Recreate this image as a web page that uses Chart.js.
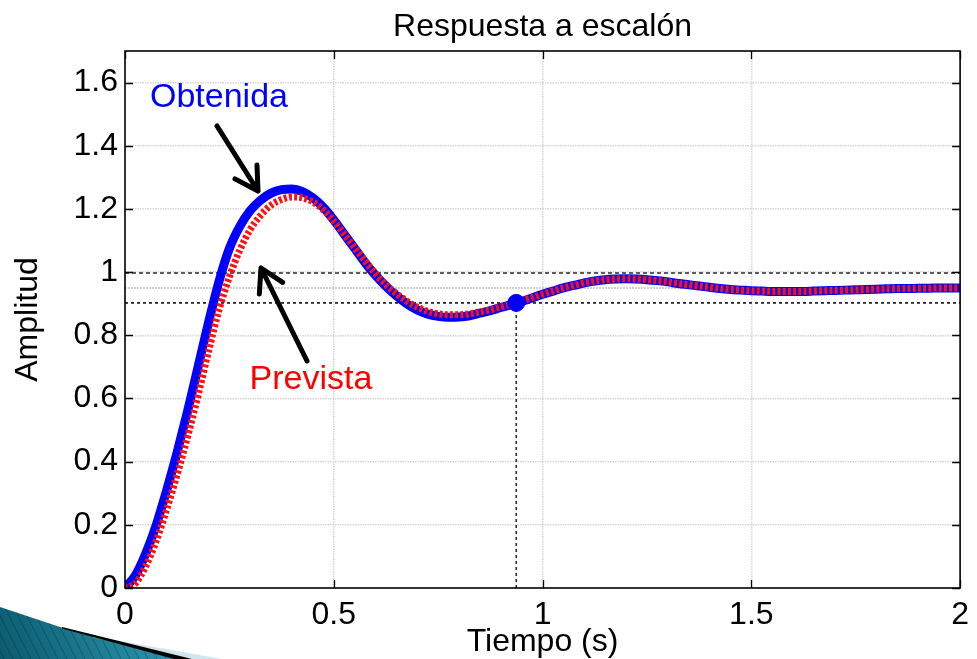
<!DOCTYPE html>
<html>
<head>
<meta charset="utf-8">
<title>Respuesta a escalón</title>
<script src="https://cdn.jsdelivr.net/npm/chart.js@4.4.1/dist/chart.umd.min.js"></script>
<style>
  html, body { margin: 0; padding: 0; background: #ffffff; }
  canvas { display: block; }
</style>
</head>
<body>
<canvas id="c" width="977" height="659"></canvas>
<script>
// Step response: measured ("Obtenida") vs. model ("Prevista")
const timeValues = [
  0.000, 0.025, 0.050, 0.075, 0.100, 0.125, 0.150, 0.175, 0.200, 0.225,
  0.250, 0.275, 0.300, 0.325, 0.350, 0.375, 0.400, 0.425, 0.450, 0.475,
  0.500, 0.525, 0.550, 0.575, 0.600, 0.625, 0.650, 0.675, 0.700, 0.725,
  0.750, 0.775, 0.800, 0.825, 0.850, 0.875, 0.900, 0.925, 0.950, 0.975,
  1.000, 1.025, 1.050, 1.075, 1.100, 1.125, 1.150, 1.175, 1.200, 1.225,
  1.250, 1.275, 1.300, 1.325, 1.350, 1.375, 1.400, 1.425, 1.450, 1.475,
  1.500, 1.525, 1.550, 1.575, 1.600, 1.625, 1.650, 1.675, 1.700, 1.725,
  1.750, 1.775, 1.800, 1.825, 1.850, 1.875, 1.900, 1.925, 1.950, 1.975,
  2.000
];

const obtenidaValues = [
  0.000, 0.040, 0.110, 0.200, 0.310, 0.430, 0.560, 0.700, 0.840, 0.970,
  1.075, 1.145, 1.195, 1.228, 1.250, 1.261, 1.263, 1.255, 1.235, 1.205,
  1.165, 1.120, 1.075, 1.030, 0.990, 0.955, 0.925, 0.900, 0.880, 0.867,
  0.860, 0.857, 0.858, 0.862, 0.870, 0.878, 0.888, 0.897, 0.907, 0.918,
  0.930, 0.940, 0.950, 0.958, 0.966, 0.972, 0.976, 0.978, 0.979, 0.978,
  0.976, 0.973, 0.969, 0.964, 0.960, 0.956, 0.952, 0.948, 0.945, 0.943,
  0.941, 0.940, 0.939, 0.939, 0.939, 0.939, 0.940, 0.941, 0.942, 0.943,
  0.944, 0.945, 0.946, 0.947, 0.948, 0.948, 0.949, 0.949, 0.950, 0.950,
  0.950
];

const previstaValues = [
  0.000, 0.015, 0.070, 0.150, 0.250, 0.360, 0.480, 0.610, 0.750, 0.880,
  0.985, 1.070, 1.135, 1.180, 1.212, 1.230, 1.238, 1.235, 1.222, 1.197,
  1.162, 1.120, 1.077, 1.035, 0.995, 0.960, 0.932, 0.908, 0.889, 0.876,
  0.868, 0.865, 0.865, 0.868, 0.874, 0.881, 0.890, 0.899, 0.909, 0.919,
  0.930, 0.940, 0.950, 0.958, 0.966, 0.972, 0.976, 0.978, 0.979, 0.978,
  0.976, 0.973, 0.969, 0.964, 0.960, 0.956, 0.952, 0.948, 0.945, 0.943,
  0.941, 0.940, 0.939, 0.939, 0.939, 0.939, 0.940, 0.941, 0.942, 0.943,
  0.944, 0.945, 0.946, 0.947, 0.948, 0.948, 0.949, 0.949, 0.950, 0.950,
  0.950
];

// Settling band (±5 % of the final value) and settling point
const finalValue = 0.95;
const bandUpper = 0.9975;
const bandLower = 0.9025;
const settlingTime = 0.937;

const xTickValues = [0, 0.5, 1, 1.5, 2];
const yTickValues = [0, 0.2, 0.4, 0.6, 0.8, 1.0, 1.2, 1.4, 1.6];
const xRange = [0, 2];
const yRange = [0, 1.7];

const FONT = '"Liberation Sans", Arial, Helvetica, sans-serif';

const toPoints = (xs, ys) => xs.map((x, i) => ({ x: x, y: ys[i] }));
const hLine = (v) => [{ x: xRange[0], y: v }, { x: xRange[1], y: v }];

// Frame, inward tick marks, annotations and the slide corner ornament
const decorations = {
  id: 'decorations',
  beforeDraw(chart) {
    const ctx = chart.ctx;
    ctx.save();
    ctx.fillStyle = '#ffffff';
    ctx.fillRect(0, 0, chart.width, chart.height);
    ctx.restore();
  },
  afterDatasetsDraw(chart) {
    const { ctx, chartArea: a, scales } = chart;
    const xs = scales.x, ys = scales.y;
    ctx.save();
    // axes box
    ctx.strokeStyle = '#000000';
    ctx.lineWidth = 1.6;
    ctx.setLineDash([]);
    ctx.strokeRect(a.left, a.top, a.right - a.left, a.bottom - a.top);
    // inward ticks
    const tl = 8;
    ctx.beginPath();
    xTickValues.forEach(v => {
      const px = Math.round(xs.getPixelForValue(v)) + 0.5;
      ctx.moveTo(px, a.bottom); ctx.lineTo(px, a.bottom - tl);
      ctx.moveTo(px, a.top); ctx.lineTo(px, a.top + tl);
    });
    yTickValues.forEach(v => {
      const py = Math.round(ys.getPixelForValue(v)) + 0.5;
      ctx.moveTo(a.left, py); ctx.lineTo(a.left + tl, py);
      ctx.moveTo(a.right, py); ctx.lineTo(a.right - tl, py);
    });
    ctx.lineWidth = 1.3;
    ctx.stroke();
    ctx.restore();
  },
  afterDraw(chart) {
    const ctx = chart.ctx;
    ctx.save();

    // labels
    ctx.font = '34px ' + FONT;
    ctx.textAlign = 'center';
    ctx.textBaseline = 'middle';
    ctx.fillStyle = '#0000ff';
    ctx.fillText('Obtenida', 219, 98);
    ctx.fillStyle = '#ff0000';
    ctx.fillText('Prevista', 311, 380);

    // arrows
    const arrow = (x0, y0, x1, y1) => {
      const ang = Math.atan2(y0 - y1, x0 - x1);
      const len = 26, spread = Math.PI / 6;
      ctx.strokeStyle = '#000000';
      ctx.lineWidth = 5;
      ctx.lineCap = 'round';
      ctx.lineJoin = 'round';
      ctx.beginPath();
      ctx.moveTo(x0, y0);
      ctx.lineTo(x1, y1);
      ctx.moveTo(x1 + len * Math.cos(ang - spread), y1 + len * Math.sin(ang - spread));
      ctx.lineTo(x1, y1);
      ctx.lineTo(x1 + len * Math.cos(ang + spread), y1 + len * Math.sin(ang + spread));
      ctx.stroke();
    };
    arrow(217, 126, 258, 191);
    arrow(307, 361, 261, 268);

    // corner ornament (bottom-left)
    const h = chart.height;
    ctx.lineCap = 'butt';
    ctx.beginPath();
    ctx.moveTo(0, 607);
    ctx.lineTo(66, 629);
    ctx.lineTo(176, h);
    ctx.lineTo(0, h);
    ctx.closePath();
    const g = ctx.createLinearGradient(0, h, 150, 600);
    g.addColorStop(0, '#0b5a6c');
    g.addColorStop(1, '#2a94ad');
    ctx.fillStyle = g;
    ctx.fill();
    ctx.save();
    ctx.clip();
    ctx.strokeStyle = 'rgba(0,40,55,0.35)';
    ctx.lineWidth = 1;
    for (let k = -80; k < 260; k += 9) {
      ctx.beginPath();
      ctx.moveTo(k, 600);
      ctx.lineTo(k + 30, h);
      ctx.stroke();
    }
    ctx.restore();

    // light wedge
    ctx.beginPath();
    ctx.moveTo(92, 636);
    ctx.lineTo(222, h);
    ctx.lineTo(188, h);
    ctx.lineTo(92, 637);
    ctx.closePath();
    ctx.fillStyle = '#cfe6ee';
    ctx.fill();

    // dark wedge
    ctx.beginPath();
    ctx.moveTo(62, 627);
    ctx.lineTo(192, h);
    ctx.lineTo(174, h);
    ctx.lineTo(62, 628.5);
    ctx.closePath();
    ctx.fillStyle = '#000000';
    ctx.fill();

    ctx.restore();
  }
};

const chart = new Chart(document.getElementById('c'), {
  type: 'line',
  data: {
    datasets: [
      {
        label: 'Tiempo de establecimiento',
        data: [{ x: settlingTime, y: bandLower }],
        showLine: false,
        pointRadius: 8.5,
        pointBackgroundColor: '#0000ff',
        pointBorderColor: '#0000ff',
        order: 0
      },
      {
        label: 'Prevista',
        data: toPoints(timeValues, previstaValues),
        borderColor: '#ff1010',
        borderWidth: 7,
        borderDash: [3, 2.2],
        borderCapStyle: 'butt',
        pointRadius: 0,
        cubicInterpolationMode: 'monotone',
        order: 1
      },
      {
        label: 'Obtenida',
        data: toPoints(timeValues, obtenidaValues),
        borderColor: '#0000ff',
        borderWidth: 9,
        pointRadius: 0,
        cubicInterpolationMode: 'monotone',
        order: 2
      },
      {
        label: 'Valor final',
        data: hLine(finalValue),
        borderColor: '#c4c4c4',
        borderWidth: 1.5,
        borderDash: [2, 1],
        pointRadius: 0,
        order: 5
      },
      {
        label: 'Banda superior',
        data: hLine(bandUpper),
        borderColor: '#2a2a2a',
        borderWidth: 1.5,
        borderDash: [4, 3],
        pointRadius: 0,
        order: 4
      },
      {
        label: 'Banda inferior',
        data: hLine(bandLower),
        borderColor: '#2a2a2a',
        borderWidth: 1.8,
        borderDash: [3, 3],
        pointRadius: 0,
        order: 4
      },
      {
        label: 'Ts',
        data: [{ x: settlingTime, y: 0 }, { x: settlingTime, y: bandLower }],
        borderColor: '#2a2a2a',
        borderWidth: 1.6,
        borderDash: [3, 3],
        pointRadius: 0,
        order: 4
      }
    ]
  },
  options: {
    responsive: false,
    animation: false,
    devicePixelRatio: 1,
    layout: { padding: { left: 0, right: 9, top: 0, bottom: 0 } },
    plugins: {
      legend: { display: false },
      tooltip: { enabled: false },
      title: {
        display: true,
        fullSize: false,
        text: 'Respuesta a escalón',
        color: '#000000',
        font: { family: FONT, size: 32, weight: 'normal', lineHeight: 1.2 },
        padding: { top: 8, bottom: 4.6 }
      }
    },
    scales: {
      x: {
        type: 'linear',
        min: xRange[0],
        max: xRange[1],
        afterBuildTicks: (s) => { s.ticks = xTickValues.map(v => ({ value: v })); },
        afterFit: (s) => { s.height = 71; },
        ticks: {
          color: '#000000',
          padding: 8,
          font: { family: FONT, size: 32, lineHeight: 1.2 },
          callback: (v) => String(+Number(v).toFixed(2))
        },
        grid: {
          color: (c) => (c.tick && (c.tick.value === xRange[0] || c.tick.value === xRange[1])) ? 'rgba(0,0,0,0)' : '#d6d6d6',
          lineWidth: 1.5,
          drawTicks: false
        },
        border: { display: false, dash: [1.5, 1] },
        title: {
          display: true,
          text: 'Tiempo (s)',
          color: '#000000',
          font: { family: FONT, size: 32, lineHeight: 1.0 },
          padding: { top: 0, bottom: 1 }
        }
      },
      y: {
        type: 'linear',
        min: yRange[0],
        max: yRange[1],
        afterBuildTicks: (s) => { s.ticks = yTickValues.map(v => ({ value: v })); },
        afterFit: (s) => { s.width = 125; },
        ticks: {
          color: '#000000',
          padding: 7,
          font: { family: FONT, size: 32, lineHeight: 1.2 },
          callback: (v) => String(+Number(v).toFixed(2))
        },
        grid: {
          color: (c) => (c.tick && c.tick.value === yRange[0]) ? 'rgba(0,0,0,0)' : '#d6d6d6',
          lineWidth: 1.5,
          drawTicks: false
        },
        border: { display: false, dash: [1.5, 1] },
        title: {
          display: true,
          text: 'Amplitud',
          color: '#000000',
          font: { family: FONT, size: 32, lineHeight: 1.2 },
          padding: { top: 9, bottom: 0 }
        }
      }
    }
  },
  plugins: [decorations]
});
</script>
</body>
</html>
